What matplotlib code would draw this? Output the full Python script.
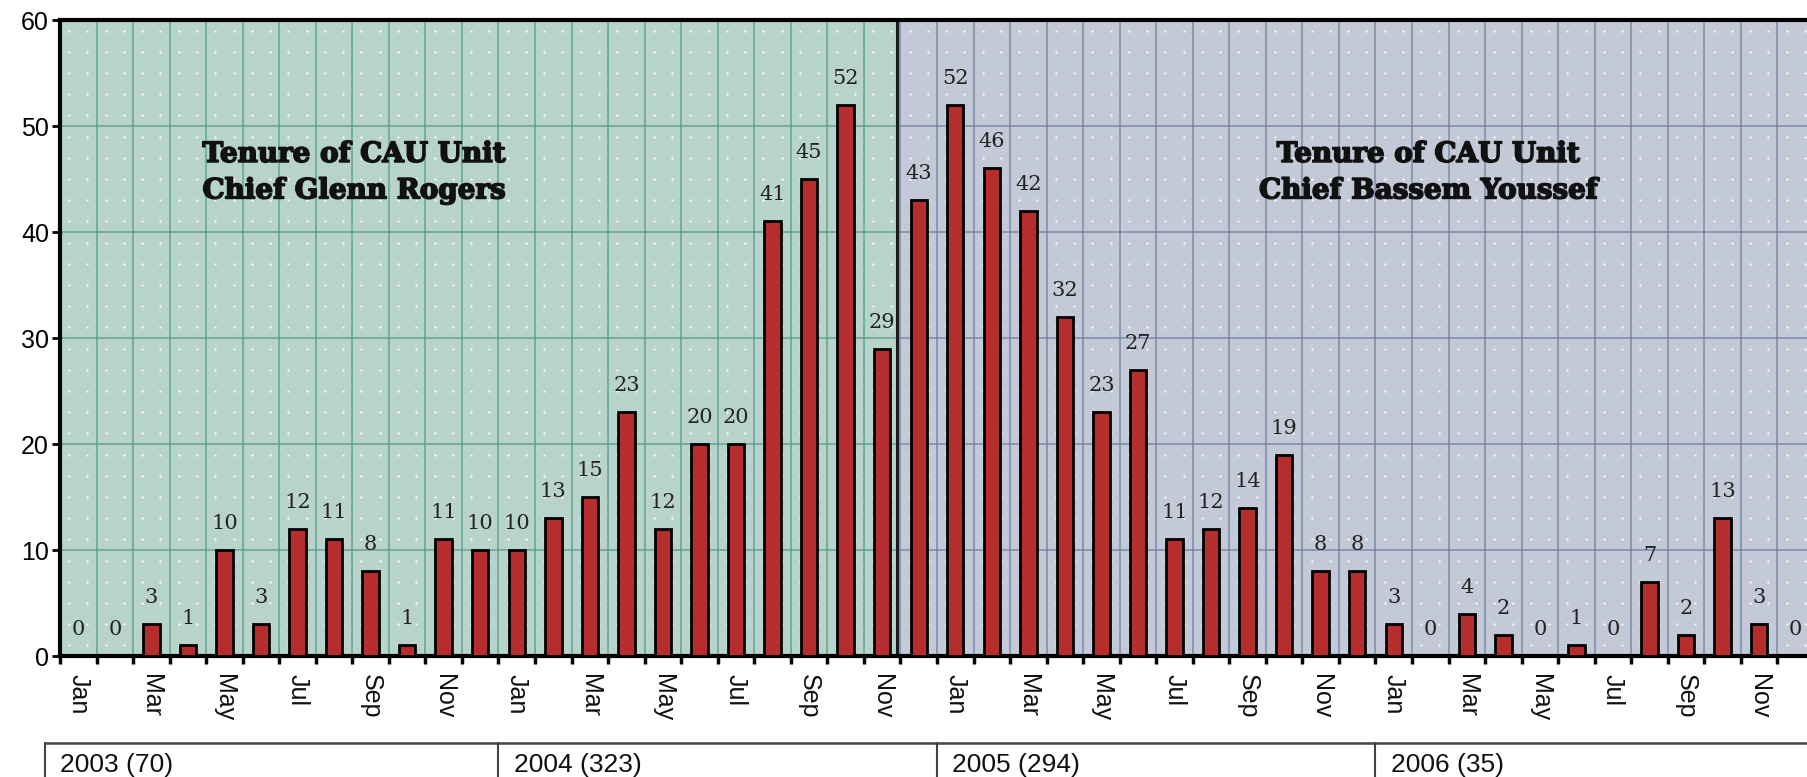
import numpy as np
import matplotlib
matplotlib.use("Agg")
import matplotlib.pyplot as plt
import matplotlib.patheffects as pe
from matplotlib.transforms import blended_transform_factory

# ---------------- data ----------------
months = ["Jan", "Feb", "Mar", "Apr", "May", "Jun",
          "Jul", "Aug", "Sep", "Oct", "Nov", "Dec"]
years = [2003, 2004, 2005, 2006]
counts_2003 = [0, 0, 3, 1, 10, 3, 12, 11, 8, 1, 11, 10]
counts_2004 = [10, 13, 15, 23, 12, 20, 20, 41, 45, 52, 29, 43]
counts_2005 = [52, 46, 42, 32, 23, 27, 11, 12, 14, 19, 8, 8]
counts_2006 = [3, 0, 4, 2, 0, 1, 0, 7, 2, 13, 3, 0]
yearly = [counts_2003, counts_2004, counts_2005, counts_2006]
tenure_labels = ["Tenure of CAU Unit\nChief Glenn Rogers",
                 "Tenure of CAU Unit\nChief Bassem Youssef"]
rogers_last_index = 22   # Nov 2004 (last month of Rogers' tenure)

values = np.concatenate(yearly)
n = len(values)
x = np.arange(n)

# ---------------- figure ----------------
W, H, DPI = 1807, 777, 100
fig = plt.figure(figsize=(W / DPI, H / DPI), dpi=DPI)
fig.patch.set_facecolor("white")

ax_left, ax_right, ax_top, ax_bot = 60, 1814, 20, 656
ax = fig.add_axes([ax_left / W, (H - ax_bot) / H,
                   (ax_right - ax_left) / W, (ax_bot - ax_top) / H])
ax.set_xlim(-0.5, n - 0.5)
ax.set_ylim(0, 60)

split = rogers_last_index + 0.4
green_bg, blue_bg = "#b7d3ca", "#c3c9d6"
green_grid, blue_grid = "#4f988a", "#6a7b9c"

ax.axvspan(-0.5, split, color=green_bg, zorder=0, lw=0)
ax.axvspan(split, n - 0.5, color=blue_bg, zorder=0, lw=0)

# dotted halftone texture
dx = np.arange(-0.5, n - 0.5, 0.5) + 0.25
dy = np.arange(1, 60, 2.0)
gx, gy = np.meshgrid(dx, dy)
ax.scatter(gx.ravel(), gy.ravel(), s=3, color="white", alpha=0.85,
           lw=0, zorder=0.5)

# vertical grid at month edges
for e in np.arange(-0.5, n, 1.0):
    c = green_grid if e < split else blue_grid
    ax.axvline(e, color=c, lw=1.1, alpha=0.8, zorder=1)
# horizontal grid at every 10
for yv in range(10, 60, 10):
    ax.plot([-0.5, split], [yv, yv], color=green_grid, lw=1.1, alpha=0.8, zorder=1)
    ax.plot([split, n - 0.5], [yv, yv], color=blue_grid, lw=1.1, alpha=0.8, zorder=1)

# divider between tenures
ax.axvline(split, color="#1a1a1a", lw=2.2, zorder=2)

# bars
ax.bar(x, values, width=0.45, color="#b52e2d", edgecolor="black",
       linewidth=2, zorder=3)

# value labels
for xi, v in zip(x, values):
    ax.text(xi, v + 2.5, f"{v}", ha="center", va="center",
            fontsize=15, family="DejaVu Serif", color="#222222", zorder=4)

# tenure annotations
heavy = [pe.withStroke(linewidth=1.2, foreground="#111111")]
ax.text(3.4, 45.6, tenure_labels[0], ha="left", va="center",
        fontsize=20, fontweight="bold", family="DejaVu Serif",
        color="#111111", linespacing=1.45, zorder=4, path_effects=heavy)
ax.text(36.95, 45.6, tenure_labels[1], ha="center", va="center",
        fontsize=20, fontweight="bold", family="DejaVu Serif",
        color="#111111", linespacing=1.45, zorder=4, path_effects=heavy)

# spines
for s in ["left", "bottom", "top"]:
    ax.spines[s].set_linewidth(3)
    ax.spines[s].set_color("black")
ax.spines["right"].set_visible(False)

# y ticks
ax.set_yticks(range(0, 61, 10))
ax.tick_params(axis="y", length=6, width=2, pad=2, labelsize=18)
for lab in ax.get_yticklabels():
    lab.set_family("Liberation Sans")

# x ticks: marks at bin edges, labels every other month
ax.set_xticks(np.arange(-0.5, n, 1.0))
ax.set_xticklabels([])
ax.tick_params(axis="x", which="major", length=6, width=2.5, direction="out")
label_pos = x[::2]
label_txt = [months[i % 12] for i in label_pos]
ax.set_xticks(label_pos, minor=True)
ax.set_xticklabels(label_txt, minor=True, rotation=-90, fontsize=18,
                   family="Liberation Sans", color="#111111")
ax.tick_params(axis="x", which="minor", length=0, pad=13)
for lab in ax.get_xticklabels(minor=True):
    lab.set_va("top")
    lab.set_ha("center")

# year table below
tr = blended_transform_factory(ax.transData, fig.transFigure)
y_top = (H - 743) / H
line_kw = dict(transform=tr, clip_on=False, color="#444444")
ax.plot([-0.91, n + 2], [y_top, y_top], lw=1.8, **line_kw)
ax.plot([-0.91, -0.91], [y_top, -0.05], lw=1.5, **line_kw)
for k, (yr, cts) in enumerate(zip(years, yearly)):
    start = 12 * k - 0.5
    if k > 0:
        ax.plot([start, start], [y_top, -0.05], lw=1.5, **line_kw)
    tx = start + 0.42 if k > 0 else -0.5
    ax.text(tx, (H - 765) / H, f"{yr} ({sum(cts)})", transform=tr,
            ha="left", va="center", fontsize=19, family="Liberation Sans",
            color="#111111", clip_on=False)

fig.savefig("out.png", dpi=DPI)
